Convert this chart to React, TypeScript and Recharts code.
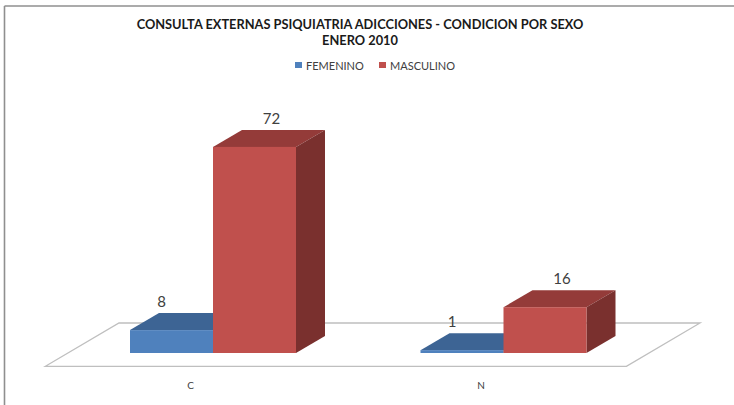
import { BarChart, Bar, XAxis, YAxis, LabelList } from 'recharts';

const categories = ['C', 'N'];
const femenino = [8, 1];
const masculino = [72, 16];
const seriesNames = ['FEMENINO', 'MASCULINO'];
const titleLines = ['CONSULTA EXTERNAS PSIQUIATRIA ADICCIONES - CONDICION POR SEXO', 'ENERO 2010'];

const W = 734;
const H = 405;
const M = { top: 124, right: 85, bottom: 22, left: 68 };
const XH = 30;
const DX = 29;
const DY = 17;
const FONT = 'Lato, "Liberation Sans", sans-serif';

const colors = {
  fem: { front: '#4f81bd', top: '#3d6494', side: '#2f4e74' },
  masc: { front: '#c0504d', top: '#943b39', side: '#7a302e' },
};

const data = categories.map((c, i) => ({ cat: c, fem: femenino[i], masc: masculino[i] }));

function make3D(c: { front: string; top: string; side: string }) {
  return (p: any) => {
    const { x, y, width, height } = p;
    if (width == null || height == null) return null;
    const r = x + width;
    const b = y + height;
    return (
      <g>
        <polygon points={`${x},${y} ${x + DX},${y - DY} ${r + DX},${y - DY} ${r},${y}`} fill={c.top} />
        <polygon points={`${r},${y} ${r + DX},${y - DY} ${r + DX},${b - DY} ${r},${b}`} fill={c.side} />
        <rect x={x} y={y} width={width} height={height} fill={c.front} />
      </g>
    );
  };
}

function makeLabel(off: number) {
  return (p: any) => {
    const { x, y, width, value } = p;
    return (
      <text x={x + width / 2 + off} y={y - DY - 12} textAnchor="middle" dominantBaseline="central"
        fontFamily={FONT} fontSize={15} fill="#404040">
        {value}
      </text>
    );
  };
}

function Floor() {
  const left = M.left;
  const right = W - M.right;
  const base = H - M.bottom - XH;
  const pts = [
    [left - 22.6, base + 13.3],
    [right - 22.6, base + 13.3],
    [right + 51, base - 30],
    [left + 51, base - 30],
  ];
  return (
    <g>
      <polygon points={pts.map((q) => q.join(',')).join(' ')} fill="#ffffff" stroke="#bfbfbf" strokeWidth={1.3} />
    </g>
  );
}

function Frame() {
  const items = [
    { name: seriesNames[0], color: colors.fem.front, x: 295 },
    { name: seriesNames[1], color: colors.masc.front, x: 379 },
  ];
  return (
    <g>
      <line x1={4.5} y1={6} x2={W} y2={6} stroke="#8f8f8f" strokeWidth={1.6} />
      <line x1={4.5} y1={6} x2={4.5} y2={H} stroke="#8f8f8f" strokeWidth={1.6} />
      {titleLines.map((t, i) => (
        <text key={i} x={360} y={24 + i * 16} textAnchor="middle" dominantBaseline="central"
          fontFamily={FONT} fontWeight="bold" fontSize={12.8} fill="#1a1a1a">
          {t}
        </text>
      ))}
      {items.map((it) => (
        <g key={it.name}>
          <rect x={it.x} y={62} width={7} height={6} fill={it.color} />
          <text x={it.x + 11} y={65} dominantBaseline="central" fontFamily={FONT} fontSize={11} fill="#404040">
            {it.name}
          </text>
        </g>
      ))}
    </g>
  );
}

function CatTick(p: any) {
  const { x, y, payload } = p;
  return (
    <text x={x - 22.6} y={y + 32} textAnchor="middle" dominantBaseline="central"
      fontFamily={FONT} fontSize={10} fill="#404040">
      {payload.value}
    </text>
  );
}

export default function App() {
  return (
    <div style={{ position: 'absolute', left: 0, top: 0, width: W, height: H, background: '#fff' }}>
      <BarChart width={W} height={H} data={data} margin={M} barSize={83} barGap={0}>
        <Frame />
        <Floor />
        <XAxis dataKey="cat" axisLine={false} tickLine={false} tickSize={0} tickMargin={0} height={XH} tick={<CatTick />} />
        <YAxis hide domain={[0, 80]} />
        <Bar dataKey="fem" name={seriesNames[0]} fill={colors.fem.front} shape={make3D(colors.fem)} isAnimationActive={false}>
          <LabelList dataKey="fem" content={makeLabel(-10)} />
        </Bar>
        <Bar dataKey="masc" name={seriesNames[1]} fill={colors.masc.front} shape={make3D(colors.masc)} isAnimationActive={false}>
          <LabelList dataKey="masc" content={makeLabel(17)} />
        </Bar>
      </BarChart>
    </div>
  );
}
